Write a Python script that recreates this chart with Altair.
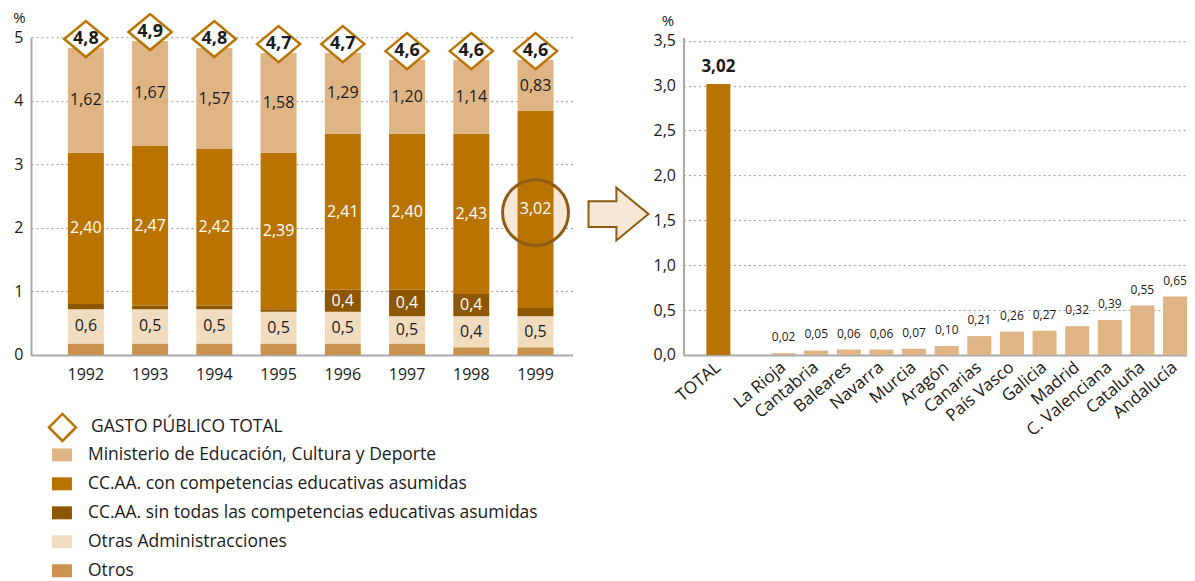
import altair as alt
import pandas as pd

# ---------------- Left chart data ----------------
years = ["1992", "1993", "1994", "1995", "1996", "1997", "1998", "1999"]
otros = [0.18, 0.18, 0.18, 0.18, 0.18, 0.18, 0.12, 0.12]
otras = [0.54, 0.54, 0.54, 0.50, 0.50, 0.43, 0.49, 0.49]
sin_comp = [0.08, 0.06, 0.06, 0.04, 0.35, 0.42, 0.35, 0.13]
con_comp = [2.38, 2.51, 2.46, 2.46, 2.45, 2.45, 2.52, 3.10]
ministerio = [1.65, 1.65, 1.59, 1.57, 1.27, 1.16, 1.16, 0.80]

lab_otras = ["0,6", "0,5", "0,5", "0,5", "0,5", "0,5", "0,4", "0,5"]
lab_sin = ["", "", "", "", "0,4", "0,4", "0,4", ""]
lab_con = ["2,40", "2,47", "2,42", "2,39", "2,41", "2,40", "2,43", "3,02"]
lab_min = ["1,62", "1,67", "1,57", "1,58", "1,29", "1,20", "1,14", "0,83"]
lab_total = ["4,8", "4,9", "4,8", "4,7", "4,7", "4,6", "4,6", "4,6"]

series_names = [
    "Ministerio de Educación, Cultura y Deporte",
    "CC.AA.  con competencias educativas asumidas",
    "CC.AA. sin todas las competencias educativas asumidas",
    "Otras Administracciones",
    "Otros",
]
series_colors = ["#dfb585", "#b97300", "#8c5700", "#f1dcc0", "#c9934f"]
total_name = "GASTO PÚBLICO TOTAL"

# highlight circle (1999, CC.AA. con competencias)
circle_year = ["1999"]
circle_y = [2.24]

# ---------------- Right chart data ----------------
regions = ["TOTAL", "La Rioja", "Cantabria", "Baleares", "Navarra", "Murcia",
           "Aragón", "Canarias", "País Vasco", "Galicia", "Madrid",
           "C. Valenciana", "Cataluña", "Andalucía"]
region_values = [3.02, 0.02, 0.05, 0.06, 0.06, 0.07, 0.10, 0.21, 0.26, 0.27,
                 0.32, 0.39, 0.55, 0.65]
region_labels = ["3,02", "0,02", "0,05", "0,06", "0,06", "0,07", "0,10", "0,21",
                 "0,26", "0,27", "0,32", "0,39", "0,55", "0,65"]

# ---------------- Build tables ----------------
stack_order = [  # bottom -> top
    ("Otros", otros, ["" for _ in years], "dark"),
    ("Otras Administracciones", otras, lab_otras, "dark"),
    ("CC.AA. sin todas las competencias educativas asumidas", sin_comp, lab_sin, "light"),
    ("CC.AA.  con competencias educativas asumidas", con_comp, lab_con, "light"),
    ("Ministerio de Educación, Cultura y Deporte", ministerio, lab_min, "dark"),
]
rows = []
totals = []
for i, y in enumerate(years):
    cum = 0.0
    for name, vals, labs, tone in stack_order:
        v = vals[i]
        rows.append(dict(year=y, serie=name, y0=cum, y1=cum + v,
                         mid=cum + v / 2, label=labs[i], tone=tone))
        cum += v
    totals.append(dict(year=y, total=cum, label=lab_total[i], serie=total_name))
df_stack = pd.DataFrame(rows)
df_tot = pd.DataFrame(totals)
df_circle = pd.DataFrame(dict(year=circle_year, y=circle_y))

df_reg = pd.DataFrame(dict(region=regions, value=region_values, label=region_labels))
region_domain = [regions[0], " "] + regions[1:]

FONT = "Open Sans"
TXT = "#1a1a1a"
AXIS_GRAY = "#a9a9a9"
GRID_GRAY = "#9c9c9c"
CIRCLE_STROKE = "#8e5b12"
CIRCLE_FILL = "#f6e7d7"
DIAMOND_PATH = "M-1.2,0L0,-1L1.2,0L0,1Z"
ARROW_PATH = "M-1,-0.43L-0.07,-0.43L-0.07,-0.88L1,0L-0.07,0.88L-0.07,0.43L-1,0.43Z"

# ---------------- Left chart ----------------
x_left = alt.Scale(type="band", domain=years, paddingInner=0.44, paddingOuter=0.435,
                   align=0.66)
y_left = alt.Scale(domain=[0, 5], nice=False)

x_axis_left = alt.Axis(title=None, labelAngle=0, ticks=False, labelFontSize=16,
                       labelPadding=12, domainColor=AXIS_GRAY, domainWidth=2,
                       grid=False, labelColor=TXT, bandPosition=0.5,
                       labelAlign="center", labelBaseline="top")
y_axis_left = alt.Axis(values=[0, 1, 2, 3, 4, 5], format="d", title="%",
                       titleAngle=0, titleX=-12, titleY=-20, titleAlign="center",
                       titleBaseline="middle", titleFontSize=15,
                       titleFontWeight="normal", titleColor=TXT,
                       labelFontSize=16, labelPadding=8, ticks=False,
                       domainColor=AXIS_GRAY, domainWidth=2, labelColor=TXT,
                       gridColor=GRID_GRAY, gridDash=[2, 3], gridWidth=1)

base_l = alt.Chart(df_stack)

circle_fill = alt.Chart(df_circle).mark_point(
    shape="circle", size=4356, filled=True, fill=CIRCLE_FILL, strokeWidth=0, opacity=1
).encode(
    x=alt.X("year:N", scale=x_left, axis=x_axis_left),
    y=alt.Y("y:Q", scale=y_left, axis=y_axis_left),
)

bars = base_l.mark_bar().encode(
    x=alt.X("year:N", scale=x_left, axis=x_axis_left),
    y=alt.Y("y0:Q", scale=y_left, axis=y_axis_left),
    y2="y1:Q",
    color=alt.Color("serie:N",
                    scale=alt.Scale(domain=series_names, range=series_colors),
                    legend=alt.Legend(title=None, orient="none", legendX=21, legendY=408,
                                      symbolType="M-1,-0.65H1V0.65H-1Z", symbolSize=400,
                                      symbolStrokeWidth=0, labelFontSize=17.5,
                                      labelOffset=16, rowPadding=10.0, labelLimit=700,
                                      padding=0, labelColor=TXT, labelFont=FONT)),
)

lab_dark = base_l.transform_filter(
    (alt.datum.tone == "dark") & (alt.datum.label != "")
).mark_text(font=FONT, fontSize=16, color=TXT, baseline="middle").encode(
    x=alt.X("year:N", scale=x_left),
    y=alt.Y("mid:Q", scale=y_left),
    text="label:N",
)
lab_light = base_l.transform_filter(
    (alt.datum.tone == "light") & (alt.datum.label != "")
).mark_text(font=FONT, fontSize=16, color="white", baseline="middle").encode(
    x=alt.X("year:N", scale=x_left),
    y=alt.Y("mid:Q", scale=y_left),
    text="label:N",
)

circle_stroke = alt.Chart(df_circle).mark_point(
    shape="circle", size=4356, filled=False, stroke=CIRCLE_STROKE, strokeWidth=3, opacity=1
).encode(
    x=alt.X("year:N", scale=x_left),
    y=alt.Y("y:Q", scale=y_left),
)

diamonds = alt.Chart(df_tot).mark_point(
    shape=DIAMOND_PATH, size=1296, filled=True, fill="white", strokeWidth=2.5,
    opacity=1, yOffset=-9
).encode(
    x=alt.X("year:N", scale=x_left),
    y=alt.Y("total:Q", scale=y_left),
    stroke=alt.Stroke("serie:N", scale=alt.Scale(domain=[total_name], range=["#b97300"]),
                      legend=alt.Legend(title=None, orient="none", legendX=16.5,
                                        legendY=375.5, symbolType="diamond",
                                        symbolSize=729, symbolFillColor="white",
                                        symbolStrokeWidth=2.5, labelFontSize=17.5,
                                        labelOffset=13.5, padding=0, labelColor=TXT,
                                        labelFont=FONT, labelLimit=700)),
)

diamond_text = alt.Chart(df_tot).mark_text(
    font=FONT, fontSize=18, fontWeight="bold", color=TXT, baseline="middle", dy=-9
).encode(
    x=alt.X("year:N", scale=x_left),
    y=alt.Y("total:Q", scale=y_left),
    text="label:N",
)

left = alt.layer(circle_fill, bars, lab_dark, lab_light, circle_stroke, diamonds,
                 diamond_text).properties(width=542, height=318)

# ---------------- Right chart ----------------
x_right = alt.Scale(type="band", domain=region_domain, paddingInner=0.265,
                    paddingOuter=0.352, align=1)
y_right = alt.Scale(domain=[0, 3.54], nice=False)

base_r = alt.Chart(df_reg)

arrow = alt.Chart(pd.DataFrame(dict(a=[1]))).mark_point(
    shape=ARROW_PATH, size=3600, filled=True, fill=CIRCLE_FILL, stroke=CIRCLE_STROKE,
    strokeWidth=2, opacity=1, clip=False
).encode(x=alt.value(-65), y=alt.value(177))

rbars = base_r.mark_bar().encode(
    x=alt.X("region:N", scale=x_right, sort=region_domain,
            axis=alt.Axis(title=None, labelAngle=-40, labelAlign="right",
                          labelBaseline="middle", ticks=False, labelFontSize=17,
                          labelPadding=10, domainColor=AXIS_GRAY, domainWidth=2,
                          grid=False, labelColor=TXT, labelFont=FONT, bandPosition=0.5)),
    y=alt.Y("value:Q", scale=y_right,
            axis=alt.Axis(values=[0, 0.5, 1, 1.5, 2, 2.5, 3, 3.5],
                          labelExpr="replace(format(datum.value, '.1f'), '.', ',')",
                          title="%", titleAngle=0, titleX=-16, titleY=-17,
                          titleAlign="center", titleBaseline="middle", titleFontSize=15,
                          titleFontWeight="normal", titleColor=TXT,
                          labelFontSize=16, labelPadding=8, ticks=False,
                          domainColor=AXIS_GRAY, domainWidth=2, labelColor=TXT,
                          gridColor=GRID_GRAY, gridDash=[2, 3], gridWidth=1)),
    color=alt.condition(alt.datum.region == "TOTAL", alt.value(series_colors[1]),
                        alt.value(series_colors[0])),
)

rlab_total = base_r.transform_filter(alt.datum.region == "TOTAL").mark_text(
    font=FONT, fontSize=17, fontWeight="bold", color=TXT, baseline="bottom", dy=-8
).encode(
    x=alt.X("region:N", scale=x_right, sort=region_domain),
    y=alt.Y("value:Q", scale=y_right),
    text="label:N",
)
rlab = base_r.transform_filter(alt.datum.region != "TOTAL").mark_text(
    font=FONT, fontSize=12, color=TXT, baseline="bottom", dy=-9
).encode(
    x=alt.X("region:N", scale=x_right, sort=region_domain),
    y=alt.Y("value:Q", scale=y_right),
    text="label:N",
)

right = alt.layer(rbars, rlab_total, rlab, arrow).properties(width=504, height=318)

chart = alt.hconcat(left, right, spacing=111, bounds="flush").resolve_scale(
    color="independent", stroke="independent"
).properties(
    padding={"left": 4, "top": 0, "right": 0, "bottom": 0}
).configure(font=FONT).configure_view(stroke=None)

chart.save("out.html", embed_options={"renderer": "svg", "actions": False})
